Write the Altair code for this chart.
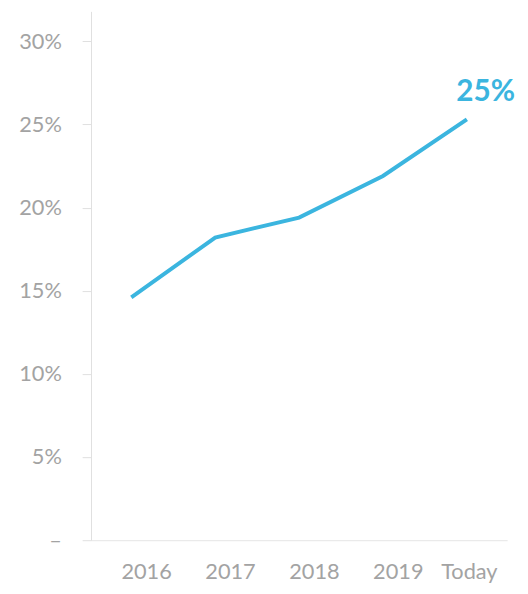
import altair as alt
import pandas as pd

years = ["2016", "2017", "2018", "2019", "Today"]
values = [0.146, 0.182, 0.194, 0.219, 0.253]
label_text = ["", "", "", "", "25%"]

df = pd.DataFrame({"year": years, "value": values, "label": label_text})

BLUE = "#3bb5df"
GREY = "#a3a3a3"
FONT = "Lato"

x = alt.X("year:N", sort=years, title=None,
          scale=alt.Scale(type="point", padding=0.48),
          axis=alt.Axis(labelAngle=0, ticks=False, domainColor="#e6e6e6",
                        labelColor=GREY, labelFontSize=22, labelFont=FONT,
                        labelPadding=22,
                        labelOffset={"condition": {"test": "datum.value == 'Today'", "value": 2}, "value": 15}))
y = alt.Y("value:Q", title=None,
          scale=alt.Scale(domain=[0, 0.318], nice=False),
          axis=alt.Axis(values=[0, 0.05, 0.1, 0.15, 0.2, 0.25, 0.3], grid=False,
                        labelExpr="datum.value == 0 ? '–' : format(datum.value, '.0%')",
                        labelColor=GREY, labelFontSize=22, labelFont=FONT,
                        tickSize=9, tickColor="#e0e0e0", domainColor="#e0e0e0",
                        labelPadding=21))

line = alt.Chart(df).mark_line(color=BLUE, strokeWidth=4).encode(x=x, y=y)
text = alt.Chart(df).mark_text(color=BLUE, fontSize=30, fontWeight="bold", font=FONT,
                               dx=19, dy=-28).encode(x=x, y=y, text="label:N")

chart = (line + text).properties(
    width=421, height=535,
    padding={"left": 10, "top": 0, "right": 5, "bottom": 5}
).configure_view(stroke=None)

chart.save("out.html", embed_options={"renderer": "svg", "actions": False})
